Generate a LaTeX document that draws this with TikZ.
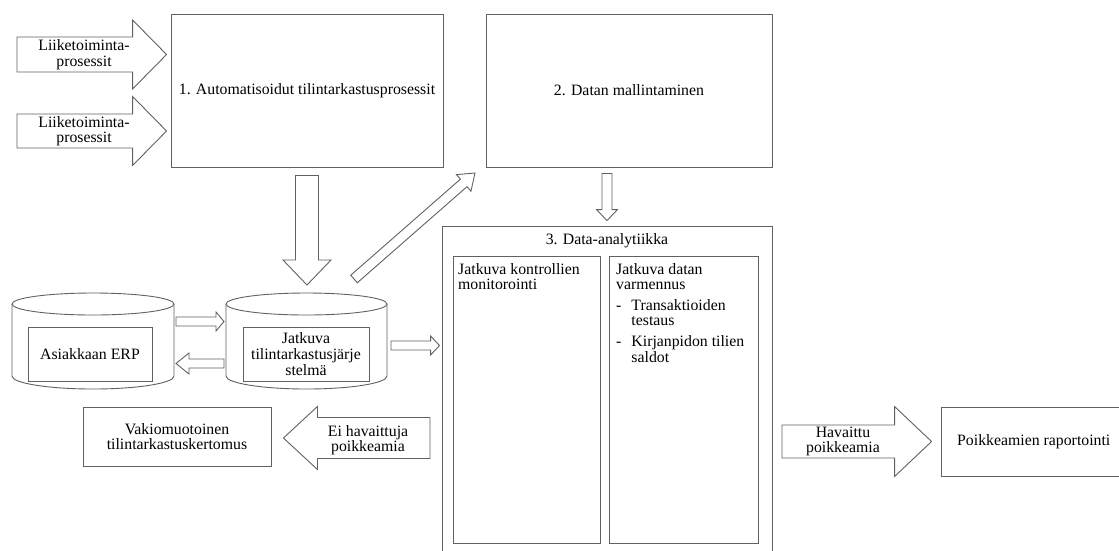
\documentclass[tikz,border=0pt]{standalone}
\usepackage{fontspec}
\setmainfont{Liberation Serif}
\usetikzlibrary{calc}
\tikzset{
  ln/.style={draw=black!62, line width=0.9pt},
  box/.style={ln, rectangle, inner sep=0pt, align=center},
  blk/.style={ln, fill=white, line join=miter},
  txt/.style={inner sep=0pt, align=center},
}
% #1 from, #2 tip, #3 half shaft, #4 half head, #5 head length
\newcommand\blockarrow[5]{%
  \path ($(#2)!#5!(#1)$) coordinate (ba-c);
  \draw[blk] ($(#1)!#3!90:(#2)$) -- ($(ba-c)!#3!90:(#2)$) -- ($(ba-c)!#4!90:(#2)$) -- (#2)
    -- ($(ba-c)!#4!-90:(#2)$) -- ($(ba-c)!#3!-90:(#2)$) -- ($(#1)!#3!-90:(#2)$) -- cycle;}
\begin{document}
\begin{tikzpicture}[x=1pt,y=-1pt,font=\fontsize{15.8}{15.6}\selectfont]
\useasboundingbox (0,0) rectangle (1119,550);
\clip (0,0) rectangle (1119,550);

% main boxes
\node[box, minimum width=272pt, minimum height=153pt] (b1) at (307,90.5) {1. Automatisoidut tilintarkastusprosessit};
\node[box, minimum width=286pt, minimum height=153pt] (b2) at (629,90.5) {2. Datan mallintaminen};
\node[box, minimum width=330pt, minimum height=340pt] (b3) at (607,396) {};
\node[txt] (b3t) at (607,241) {3. Data-analytiikka};
\node[box, minimum width=147pt, minimum height=287pt] (b3l) at (526.5,399.5) {};
\node[box, minimum width=149pt, minimum height=287pt] (b3r) at (683.5,399.5) {};
\node[txt, anchor=north west, align=left] (b3lt) at (458,263) {Jatkuva kontrollien\\monitorointi};
\node[txt, anchor=north west, align=left] (b3rt) at (616,263) {Jatkuva datan\\varmennus};
\node[txt, anchor=north west, align=left] (b3rl) at (616,299) {\begin{tabular}{@{}l@{\hspace{10pt}}l@{}}-&Transaktioiden\\&testaus\\[5pt]-&Kirjanpidon tilien\\&saldot\end{tabular}};

% cylinders
\node[txt, minimum width=162pt, minimum height=96pt] (erp) at (93,340) {};
\draw[ln] (12,304) -- (12,376) arc[start angle=180,end angle=360,x radius=81pt,y radius=13pt] -- (174,304);
\draw[ln] (93,304) ellipse[x radius=81pt, y radius=11pt];
\node[box, minimum width=124pt, minimum height=54pt] (erpin) at (90,354) {Asiakkaan ERP};

\node[txt, minimum width=161pt, minimum height=96pt] (cas) at (306.5,340) {};
\draw[ln] (226,304) -- (226,376) arc[start angle=180,end angle=360,x radius=80.5pt,y radius=13pt] -- (387,304);
\draw[ln] (306.5,304) ellipse[x radius=80.5pt, y radius=11pt];
\node[box, minimum width=126pt, minimum height=54pt] (casin) at (306,354) {Jatkuva\\tilintarkastusjärje\\stelmä};

% bottom boxes
\node[box, minimum width=188pt, minimum height=59pt] (vak) at (177,436.5) {Vakiomuotoinen\\tilintarkastuskertomus};
\node[box, minimum width=200pt, minimum height=69pt] (poi) at (1041,441.5) {};
\node[txt, anchor=west] (poit) at (957,441.5) {Poikkeamien raportointi};

% connector end points
\coordinate (l1s) at (17,54.5);  \coordinate (l1e) at ($(b1.west)+(-4,-36)$);
\coordinate (l2s) at (17,131);   \coordinate (l2e) at ($(b1.west)+(-4,40.5)$);
\coordinate (d1s) at ($(b1.south)+(0,8)$);  \coordinate (d1e) at (307,285);
\coordinate (dgs) at (354,279);  \coordinate (dge) at (475,173);
\coordinate (e1s) at (176,321.5); \coordinate (e1e) at (224,321.5);
\coordinate (e2s) at (224,363.5); \coordinate (e2e) at (176,363.5);
\coordinate (c3s) at (391,345.5); \coordinate (c3e) at ($(b3.west)+(-2,-50.5)$);
\coordinate (d2s) at ($(b2.south)+(-22,6)$); \coordinate (d2e) at ($(b3.north)+(0,-5)$);
\coordinate (eis) at (430,438);  \coordinate (eie) at ($(vak.east)+(12,1.5)$);
\coordinate (has) at (782,441.5); \coordinate (hae) at ($(poi.west)+(-9,0)$);

\blockarrow{l1s}{l1e}{17.5pt}{34.5pt}{34pt}
\blockarrow{l2s}{l2e}{17pt}{34.5pt}{34pt}
\blockarrow{d1s}{d1e}{11.5pt}{24pt}{25pt}
\blockarrow{dgs}{dge}{5pt}{11pt}{15pt}
\blockarrow{e1s}{e1e}{4.5pt}{9.5pt}{8pt}
\blockarrow{e2s}{e2e}{4.5pt}{10.5pt}{13pt}
\blockarrow{c3s}{c3e}{4.5pt}{9.5pt}{9pt}
\blockarrow{d2s}{d2e}{5pt}{10.5pt}{11pt}
\blockarrow{eis}{eie}{20.5pt}{31.5pt}{34pt}
\blockarrow{has}{hae}{16.5pt}{35pt}{37pt}

\node[txt] (l1t) at (84,54.5) {Liiketoiminta-\\prosessit};
\node[txt] (l2t) at (84,131) {Liiketoiminta-\\prosessit};
\node[txt] (eit) at (368,440) {Ei havaittuja\\poikkeamia};
\node[txt] (hat) at (843,441.5) {Havaittu\\poikkeamia};
\end{tikzpicture}
\end{document}
